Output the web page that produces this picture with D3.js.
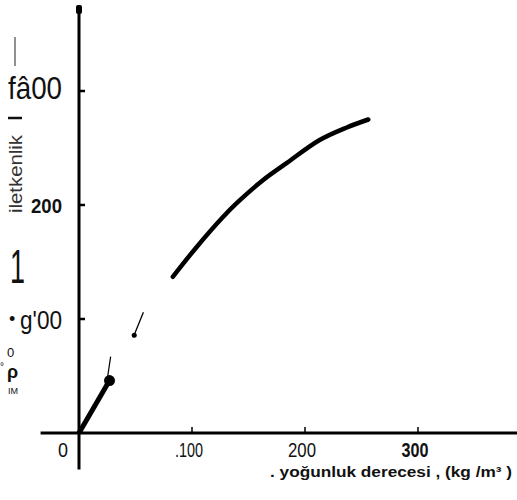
<!DOCTYPE html>
<html>
<head>
<meta charset="utf-8">
<script src="https://cdn.jsdelivr.net/npm/d3@7"></script>
<style>
  body { margin: 0; background: #fff; }
  text { font-family: "Liberation Sans", Arial, sans-serif; fill: #111; }
</style>
</head>
<body>
<svg id="chart" width="517" height="500"></svg>
<script>
// axis ticks (labels as they appear on the scan)
const xTickValues = [0, 100, 200, 300];
const xTickLabels = ['0', '.100', '200', '300'];
const yTickValues = [300, 200, 100];
const yTickLabels = ['fâ00', '200', "g'00"];

// main curve (density vs conductivity)
const curveX = [83, 104, 127, 140, 163, 184, 213, 237, 256];
const curveY = [137, 163, 189, 202, 222, 237, 257, 268, 275];

// short low-density segments
const lowX = [0, 27];
const lowY = [0, 46];
const thinX = [25, 28];
const thinY = [47, 67];
const midX = [48, 57];
const midY = [84, 106];

const xTitle = '. yoğunluk  derecesi , (kg /m³ )';
const yTitle = 'iletkenlik';

const svg = d3.select('#chart');

const x = d3.scaleLinear().domain([0, 300]).range([79, 418]);
const y = d3.scaleLinear().domain([0, 300]).range([433, 91]);

// axis lines
svg.append('line')
    .attr('x1', x(-34)).attr('x2', x(388))
    .attr('y1', y(0)).attr('y2', y(0))
    .attr('stroke', '#000').attr('stroke-width', 3);

svg.append('line')
    .attr('x1', x(0)).attr('x2', x(0))
    .attr('y1', y(-32)).attr('y2', y(375))
    .attr('stroke', '#000').attr('stroke-width', 3);

// tick marks
svg.selectAll('.ytick')
    .data(yTickValues)
    .join('line')
    .classed('ytick', true)
    .attr('x1', x(0)).attr('x2', x(0) + 6)
    .attr('y1', d => y(d)).attr('y2', d => y(d))
    .attr('stroke', '#000').attr('stroke-width', 2.5);

svg.selectAll('.xtick')
    .data(xTickValues.slice(1))
    .join('line')
    .classed('xtick', true)
    .attr('x1', d => x(d)).attr('x2', d => x(d))
    .attr('y1', y(0)).attr('y2', y(0) - 6)
    .attr('stroke', '#000').attr('stroke-width', 1.5);

// x tick labels (condensed like the scan)
const xWidths = [10, 28, 28, 27];
svg.selectAll('.xlabel')
    .data(xTickValues)
    .join('text')
    .classed('xlabel', true)
    .attr('x', (d, i) => i === 0 ? x(d) - 11 : x(d) - 3)
    .attr('y', y(0) + 24)
    .attr('text-anchor', (d, i) => i === 0 ? 'end' : 'middle')
    .attr('font-size', 21)
    .attr('font-weight', (d, i) => i === 3 ? 'bold' : 'normal')
    .attr('textLength', (d, i) => xWidths[i])
    .attr('lengthAdjust', 'spacingAndGlyphs')
    .text((d, i) => xTickLabels[i]);

// y tick labels
const ySizes = [32, 20, 26];
const yShift = [8, 8, 10];
const yWidths = [54, 31, 42];
svg.selectAll('.ylabel')
    .data(yTickValues)
    .join('text')
    .classed('ylabel', true)
    .attr('x', 62)
    .attr('y', (d, i) => y(d) + yShift[i])
    .attr('text-anchor', 'end')
    .attr('font-size', (d, i) => ySizes[i])
    .attr('font-weight', (d, i) => i === 1 ? 'bold' : 'normal')
    .attr('textLength', (d, i) => yWidths[i])
    .attr('lengthAdjust', 'spacingAndGlyphs')
    .text((d, i) => yTickLabels[i]);

// stray marks around the y labels
svg.append('text').attr('x', 9).attr('y', 325).attr('font-size', 18).text('•');
svg.append('text').attr('x', 10).attr('y', 283).attr('font-size', 48)
    .attr('textLength', 15).attr('lengthAdjust', 'spacingAndGlyphs').text('1');
svg.append('text').attr('x', 7).attr('y', 357).attr('font-size', 13).text('0');
svg.append('text').attr('x', 7).attr('y', 378).attr('font-size', 18).attr('font-weight', 'bold').text('ρ');
svg.append('text').attr('x', 0).attr('y', 370).attr('font-size', 10).text('°');
svg.append('text').attr('x', 8).attr('y', 394).attr('font-size', 9).text('IM');
svg.append('line')
    .attr('x1', 15).attr('x2', 15).attr('y1', 37).attr('y2', 66)
    .attr('stroke', '#222').attr('stroke-width', 1);
svg.append('line')
    .attr('x1', 8).attr('x2', 22).attr('y1', 118).attr('y2', 118)
    .attr('stroke', '#111').attr('stroke-width', 2.5);

// axis titles
svg.append('text')
    .attr('transform', 'translate(22, 174) rotate(-90)')
    .attr('text-anchor', 'middle')
    .attr('font-size', 18)
    .attr('textLength', 78)
    .attr('lengthAdjust', 'spacingAndGlyphs')
    .style('fill', '#333')
    .text(yTitle);

svg.append('text')
    .attr('x', 270)
    .attr('y', 477)
    .attr('font-size', 14)
    .attr('font-weight', 'bold')
    .attr('textLength', 242)
    .attr('lengthAdjust', 'spacingAndGlyphs')
    .text(xTitle);

// data lines
const straight = d3.line().x(d => x(d[0])).y(d => y(d[1]));
const smooth = d3.line()
    .x(d => x(d[0]))
    .y(d => y(d[1]))
    .curve(d3.curveCatmullRom);

svg.append('path')
    .datum(d3.zip(curveX, curveY))
    .attr('d', smooth)
    .attr('fill', 'none')
    .attr('stroke', '#000')
    .attr('stroke-width', 4.5)
    .attr('stroke-linecap', 'round');

svg.append('path')
    .datum(d3.zip(lowX, lowY))
    .attr('d', straight)
    .attr('stroke', '#000')
    .attr('stroke-width', 5);

svg.append('circle')
    .attr('cx', x(lowX[1]))
    .attr('cy', y(lowY[1]))
    .attr('r', 5.5);

svg.append('path')
    .datum(d3.zip(thinX, thinY))
    .attr('d', straight)
    .attr('stroke', '#000')
    .attr('stroke-width', 1.2);

svg.append('path')
    .datum(d3.zip(midX, midY))
    .attr('d', straight)
    .attr('stroke', '#000')
    .attr('stroke-width', 1.3);

svg.append('circle')
    .attr('cx', x(midX[0]) + 1)
    .attr('cy', y(midY[0]) - 2)
    .attr('r', 2.5);

// blob at the top of the y axis
svg.append('rect')
    .attr('x', x(0) - 3).attr('y', 5)
    .attr('width', 6).attr('height', 9)
    .attr('rx', 2);
</script>
</body>
</html>
